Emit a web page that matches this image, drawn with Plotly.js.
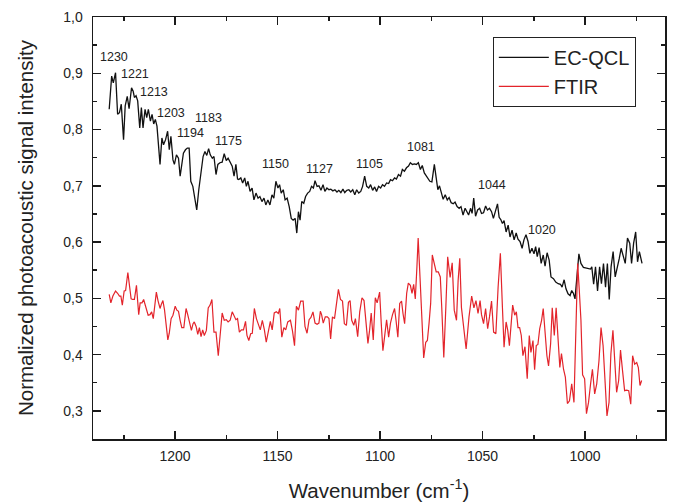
<!DOCTYPE html>
<html>
<head>
<meta charset="utf-8">
<script src="https://cdn.plot.ly/plotly-3.0.1.min.js"></script>
<style>html,body{margin:0;padding:0;background:#fff;}#chart{width:673px;height:503px;}</style>
</head>
<body>
<div id="chart"></div>
<script>
// EC-QCL spectrum (wavenumber, normalized intensity)
var qclX = [1232.1,1230.9,1230.1,1229.0,1228.0,1227.1,1226.2,1225.1,1224.3,1223.3,1222.4,1221.2,1220.4,1219.8,1219.0,1218.2,1217.2,1216.4,1215.6,1214.6,1213.8,1213.0,1212.0,1211.2,1210.4,1209.6,1208.8,1208.2,1207.3,1206.4,1205.6,1204.6,1203.6,1202.8,1202.0,1201.0,1200.3,1199.3,1198.3,1197.5,1196.7,1195.9,1194.9,1194.0,1193.1,1192.3,1191.3,1190.2,1189.4,1188.4,1187.3,1186.3,1185.4,1184.5,1183.6,1182.8,1181.8,1181.0,1180.0,1179.1,1178.1,1177.0,1176.0,1175.0,1174.1,1173.1,1172.1,1171.2,1170.3,1169.5,1168.9,1167.9,1167.0,1166.0,1165.2,1164.4,1163.4,1162.4,1161.5,1160.5,1159.5,1158.6,1157.6,1156.6,1155.7,1154.7,1153.7,1152.7,1151.8,1150.8,1149.8,1149.0,1148.2,1147.2,1146.3,1145.3,1144.3,1143.3,1142.4,1141.4,1140.6,1139.8,1139.0,1138.2,1137.2,1136.3,1135.3,1134.3,1133.4,1132.5,1131.7,1130.7,1129.8,1128.8,1127.8,1126.9,1125.9,1124.9,1124.0,1123.0,1122.0,1121.0,1120.1,1119.1,1118.1,1117.2,1116.2,1115.2,1114.3,1113.3,1112.3,1111.4,1110.4,1109.4,1108.5,1107.5,1106.5,1105.5,1104.6,1103.6,1102.6,1101.7,1100.7,1099.7,1098.8,1097.8,1096.8,1095.8,1094.9,1093.9,1092.9,1092.0,1091.0,1090.0,1089.1,1088.1,1087.1,1086.1,1085.2,1084.2,1083.2,1082.3,1081.3,1080.3,1079.4,1078.4,1077.4,1075.7,1074.7,1073.5,1072.6,1071.8,1071.0,1070.1,1069.2,1068.2,1067.2,1066.3,1065.3,1064.3,1063.4,1062.4,1061.4,1060.5,1059.5,1058.5,1057.6,1056.8,1055.8,1055.1,1054.3,1053.4,1052.4,1051.4,1050.5,1049.5,1048.5,1047.6,1046.6,1045.6,1044.7,1043.7,1042.7,1041.9,1041.1,1040.3,1039.5,1038.5,1037.5,1036.6,1035.6,1034.6,1033.6,1032.7,1031.7,1030.7,1029.8,1028.8,1027.8,1026.9,1025.9,1024.9,1024.1,1023.3,1022.4,1021.4,1020.4,1019.5,1018.5,1017.5,1016.6,1015.4,1014.3,1013.1,1012.0,1011.2,1010.2,1009.3,1008.3,1007.3,1006.5,1005.7,1004.9,1003.0,1002.0,1000.8,999.2,997.3,996.7,995.8,994.9,993.9,992.9,992.0,991.0,990.0,989.1,988.2,987.3,986.3,985.3,984.3,983.3,982.4,981.4,980.4,979.3,978.2,977.3,976.3,975.3,974.4,973.5,972.2];
var qclY = [0.836,0.895,0.883,0.901,0.827,0.830,0.845,0.782,0.842,0.859,0.837,0.874,0.868,0.857,0.860,0.851,0.803,0.839,0.803,0.836,0.821,0.836,0.815,0.827,0.810,0.818,0.806,0.782,0.738,0.785,0.773,0.782,0.797,0.764,0.788,0.746,0.738,0.755,0.749,0.717,0.743,0.758,0.764,0.767,0.767,0.708,0.699,0.669,0.657,0.693,0.729,0.752,0.761,0.754,0.766,0.755,0.749,0.752,0.720,0.738,0.741,0.742,0.757,0.745,0.749,0.742,0.735,0.717,0.738,0.712,0.711,0.714,0.705,0.714,0.699,0.708,0.690,0.696,0.675,0.687,0.678,0.681,0.672,0.678,0.666,0.675,0.666,0.684,0.678,0.708,0.696,0.702,0.687,0.693,0.675,0.678,0.663,0.642,0.639,0.642,0.616,0.654,0.639,0.672,0.669,0.681,0.687,0.690,0.699,0.696,0.709,0.699,0.700,0.692,0.702,0.690,0.696,0.693,0.694,0.691,0.693,0.689,0.692,0.688,0.694,0.688,0.692,0.693,0.689,0.693,0.684,0.693,0.687,0.690,0.699,0.717,0.699,0.696,0.702,0.692,0.698,0.690,0.699,0.696,0.702,0.699,0.705,0.704,0.711,0.709,0.714,0.712,0.720,0.717,0.729,0.726,0.732,0.735,0.741,0.738,0.739,0.738,0.741,0.729,0.736,0.723,0.718,0.708,0.707,0.738,0.714,0.693,0.700,0.687,0.676,0.684,0.675,0.679,0.670,0.668,0.671,0.663,0.660,0.663,0.648,0.660,0.652,0.648,0.660,0.651,0.678,0.646,0.657,0.660,0.651,0.652,0.664,0.657,0.660,0.654,0.642,0.657,0.668,0.644,0.640,0.633,0.638,0.618,0.630,0.609,0.621,0.604,0.616,0.605,0.601,0.589,0.604,0.613,0.601,0.580,0.589,0.579,0.592,0.574,0.590,0.562,0.577,0.557,0.581,0.568,0.538,0.535,0.529,0.526,0.525,0.520,0.533,0.517,0.508,0.505,0.514,0.509,0.499,0.579,0.562,0.555,0.553,0.552,0.556,0.525,0.556,0.513,0.556,0.526,0.562,0.520,0.562,0.498,0.556,0.583,0.538,0.553,0.571,0.589,0.574,0.562,0.607,0.598,0.562,0.598,0.618,0.565,0.583,0.562];

// FTIR spectrum
var ftirX = [1232.1,1231.3,1230.3,1229.0,1228.0,1227.1,1226.4,1225.7,1224.8,1224.1,1223.0,1222.2,1221.4,1220.6,1219.8,1218.8,1217.7,1217.0,1216.1,1215.3,1214.3,1213.1,1212.2,1211.4,1210.6,1209.9,1209.1,1208.3,1207.3,1206.7,1205.9,1205.1,1204.3,1203.5,1202.8,1201.9,1201.0,1199.9,1199.1,1198.3,1197.5,1196.7,1195.7,1194.6,1193.8,1192.8,1192.0,1191.2,1190.6,1189.7,1188.9,1188.1,1187.3,1186.5,1185.7,1184.7,1183.8,1182.9,1182.0,1181.0,1180.0,1178.9,1178.0,1177.0,1176.0,1175.0,1174.1,1173.1,1172.1,1171.2,1170.3,1169.5,1168.6,1167.6,1166.6,1165.6,1164.9,1164.0,1163.1,1162.3,1161.3,1160.3,1159.3,1158.4,1157.4,1156.4,1155.5,1154.5,1153.5,1152.6,1151.6,1150.6,1149.6,1148.9,1147.9,1146.9,1146.0,1145.0,1143.7,1142.7,1141.7,1140.8,1139.8,1138.7,1137.5,1136.6,1135.6,1134.6,1133.7,1132.7,1131.7,1130.7,1129.8,1129.1,1128.5,1127.7,1126.7,1125.7,1124.9,1124.1,1123.2,1122.2,1121.2,1120.3,1119.3,1118.3,1117.4,1116.4,1115.4,1114.6,1113.8,1112.8,1112.0,1110.9,1109.9,1108.8,1107.8,1106.8,1105.9,1105.1,1104.3,1103.3,1102.3,1101.4,1100.2,1099.4,1098.6,1097.8,1096.8,1095.8,1094.9,1093.9,1092.9,1092.2,1091.3,1090.4,1089.5,1088.8,1088.0,1087.0,1086.2,1085.2,1084.4,1083.6,1082.8,1082.0,1081.4,1080.5,1079.7,1078.7,1077.7,1076.9,1076.1,1075.3,1074.5,1073.5,1072.6,1071.6,1070.6,1069.9,1068.9,1067.9,1067.0,1065.8,1064.8,1063.8,1062.7,1061.9,1061.1,1060.3,1059.3,1058.0,1056.6,1055.3,1054.2,1053.2,1052.2,1051.2,1050.5,1049.5,1048.5,1047.5,1046.6,1045.6,1044.6,1043.5,1042.4,1041.3,1040.3,1039.5,1038.5,1037.7,1036.9,1036.1,1035.3,1034.3,1033.5,1032.7,1031.9,1031.1,1030.3,1029.3,1028.2,1027.2,1026.4,1025.4,1024.6,1023.8,1023.0,1022.1,1021.2,1020.4,1019.6,1018.6,1017.8,1016.8,1016.0,1015.0,1014.1,1013.1,1012.3,1011.5,1010.5,1009.6,1008.6,1007.6,1006.5,1005.4,1004.4,1003.6,1002.8,1002.0,1001.2,1000.2,999.3,998.3,997.3,996.4,995.3,994.3,993.2,992.2,991.2,990.3,989.3,988.3,987.4,986.4,985.4,984.6,983.6,982.7,981.7,980.7,979.7,978.7,977.7,976.8,975.8,974.8,974.0,973.2,972.4];
var ftirY = [0.507,0.492,0.504,0.513,0.509,0.504,0.504,0.488,0.513,0.514,0.546,0.526,0.499,0.498,0.498,0.523,0.471,0.492,0.492,0.498,0.484,0.470,0.471,0.476,0.464,0.491,0.511,0.496,0.482,0.489,0.496,0.479,0.452,0.426,0.438,0.464,0.470,0.486,0.479,0.477,0.461,0.448,0.448,0.482,0.471,0.452,0.443,0.455,0.458,0.450,0.436,0.448,0.432,0.444,0.434,0.443,0.483,0.488,0.498,0.440,0.440,0.398,0.437,0.474,0.461,0.462,0.458,0.461,0.476,0.470,0.462,0.464,0.440,0.444,0.444,0.459,0.434,0.425,0.437,0.438,0.482,0.464,0.452,0.444,0.461,0.444,0.422,0.444,0.459,0.444,0.474,0.476,0.473,0.482,0.431,0.448,0.444,0.458,0.461,0.442,0.416,0.486,0.479,0.495,0.495,0.450,0.438,0.462,0.466,0.476,0.456,0.454,0.456,0.477,0.471,0.456,0.467,0.467,0.464,0.428,0.467,0.464,0.488,0.516,0.498,0.495,0.455,0.452,0.493,0.496,0.461,0.452,0.464,0.432,0.476,0.501,0.496,0.461,0.420,0.443,0.474,0.426,0.501,0.492,0.511,0.455,0.407,0.431,0.462,0.431,0.456,0.471,0.482,0.461,0.431,0.491,0.495,0.473,0.455,0.509,0.527,0.523,0.509,0.525,0.499,0.556,0.607,0.538,0.479,0.394,0.422,0.425,0.455,0.491,0.577,0.562,0.547,0.547,0.538,0.484,0.395,0.484,0.574,0.537,0.563,0.479,0.461,0.532,0.571,0.484,0.449,0.410,0.467,0.504,0.483,0.496,0.473,0.496,0.471,0.455,0.482,0.446,0.467,0.495,0.440,0.437,0.520,0.580,0.484,0.413,0.458,0.443,0.416,0.452,0.488,0.470,0.476,0.448,0.448,0.434,0.398,0.414,0.357,0.434,0.404,0.425,0.373,0.416,0.418,0.446,0.461,0.482,0.443,0.398,0.380,0.419,0.483,0.434,0.483,0.422,0.377,0.402,0.374,0.360,0.313,0.318,0.348,0.315,0.440,0.562,0.514,0.461,0.364,0.357,0.295,0.315,0.348,0.374,0.330,0.348,0.389,0.448,0.416,0.360,0.291,0.315,0.401,0.443,0.389,0.333,0.354,0.408,0.371,0.336,0.337,0.336,0.312,0.398,0.383,0.386,0.377,0.345,0.354];

// Peak labels on the EC-QCL curve
var peakLabels = ["1230","1221","1213","1203","1194","1183","1175","1150","1127","1105","1081","1044","1020"];
var peakLabelX = [1229.6,1219.4,1210.2,1202.0,1192.6,1183.8,1174.0,1151.0,1129.7,1105.1,1080.2,1045.6,1021.2];
var peakLabelY = [0.929,0.898,0.867,0.829,0.794,0.820,0.779,0.738,0.729,0.738,0.769,0.701,0.622];

var FONT = 'Arial, "Liberation Sans", sans-serif';

var traces = [
  {x: qclX, y: qclY, type: 'scatter', mode: 'lines', name: 'EC-QCL',
   line: {color: '#111111', width: 1.3}},
  {x: ftirX, y: ftirY, type: 'scatter', mode: 'lines', name: 'FTIR',
   line: {color: '#e3242b', width: 1.2}}
];

var annotations = peakLabels.map(function (t, i) {
  return {x: peakLabelX[i], y: peakLabelY[i], xref: 'x', yref: 'y', text: t,
          showarrow: false, font: {family: FONT, size: 12.5, color: '#222'}};
});

var axisCommon = {
  showline: true, linecolor: '#1a1a1a', linewidth: 1.5, mirror: 'ticks',
  ticks: 'inside', ticklen: 8, tickwidth: 1.5, tickcolor: '#1a1a1a',
  showgrid: false, zeroline: false,
  tickfont: {family: FONT, size: 14, color: '#222'}
};

var layout = {
  width: 673, height: 503,
  margin: {l: 93, r: 8, t: 17, b: 64},
  paper_bgcolor: '#ffffff', plot_bgcolor: '#ffffff',
  separators: ',.',
  showlegend: true,
  font: {family: FONT, color: '#222'},
  xaxis: Object.assign({}, axisCommon, {
    range: [1240, 961], dtick: 50, tick0: 0, ticklabelstandoff: 4,
    minor: {ticks: 'inside', ticklen: 4, tickwidth: 1.5, tickcolor: '#1a1a1a', dtick: 25, tick0: 0, showgrid: false},
    title: {text: 'Wavenumber (cm<sup>-1</sup>)', font: {family: FONT, size: 20.5, color: '#222'}, standoff: 20}
  }),
  yaxis: Object.assign({}, axisCommon, {
    range: [0.25, 1.0], dtick: 0.1, tick0: 0, tickformat: '.1f', ticklabelstandoff: 6,
    minor: {ticks: 'inside', ticklen: 4, tickwidth: 1.5, tickcolor: '#1a1a1a', dtick: 0.05, tick0: 0, showgrid: false},
    title: {text: 'Normalized photoacoustic signal intensity', font: {family: FONT, size: 20.5, color: '#222'}, standoff: 24}
  }),
  legend: {
    x: 0.699, y: 0.953, xanchor: 'left', yanchor: 'top',
    bordercolor: '#222', borderwidth: 1, bgcolor: '#ffffff',
    font: {family: FONT, size: 20, color: '#222'},
    itemwidth: 50, entrywidth: 95, entrywidthmode: 'pixels'
  },
  annotations: annotations
};

Plotly.newPlot('chart', traces, layout, {displayModeBar: false, staticPlot: true});
</script>
</body>
</html>
